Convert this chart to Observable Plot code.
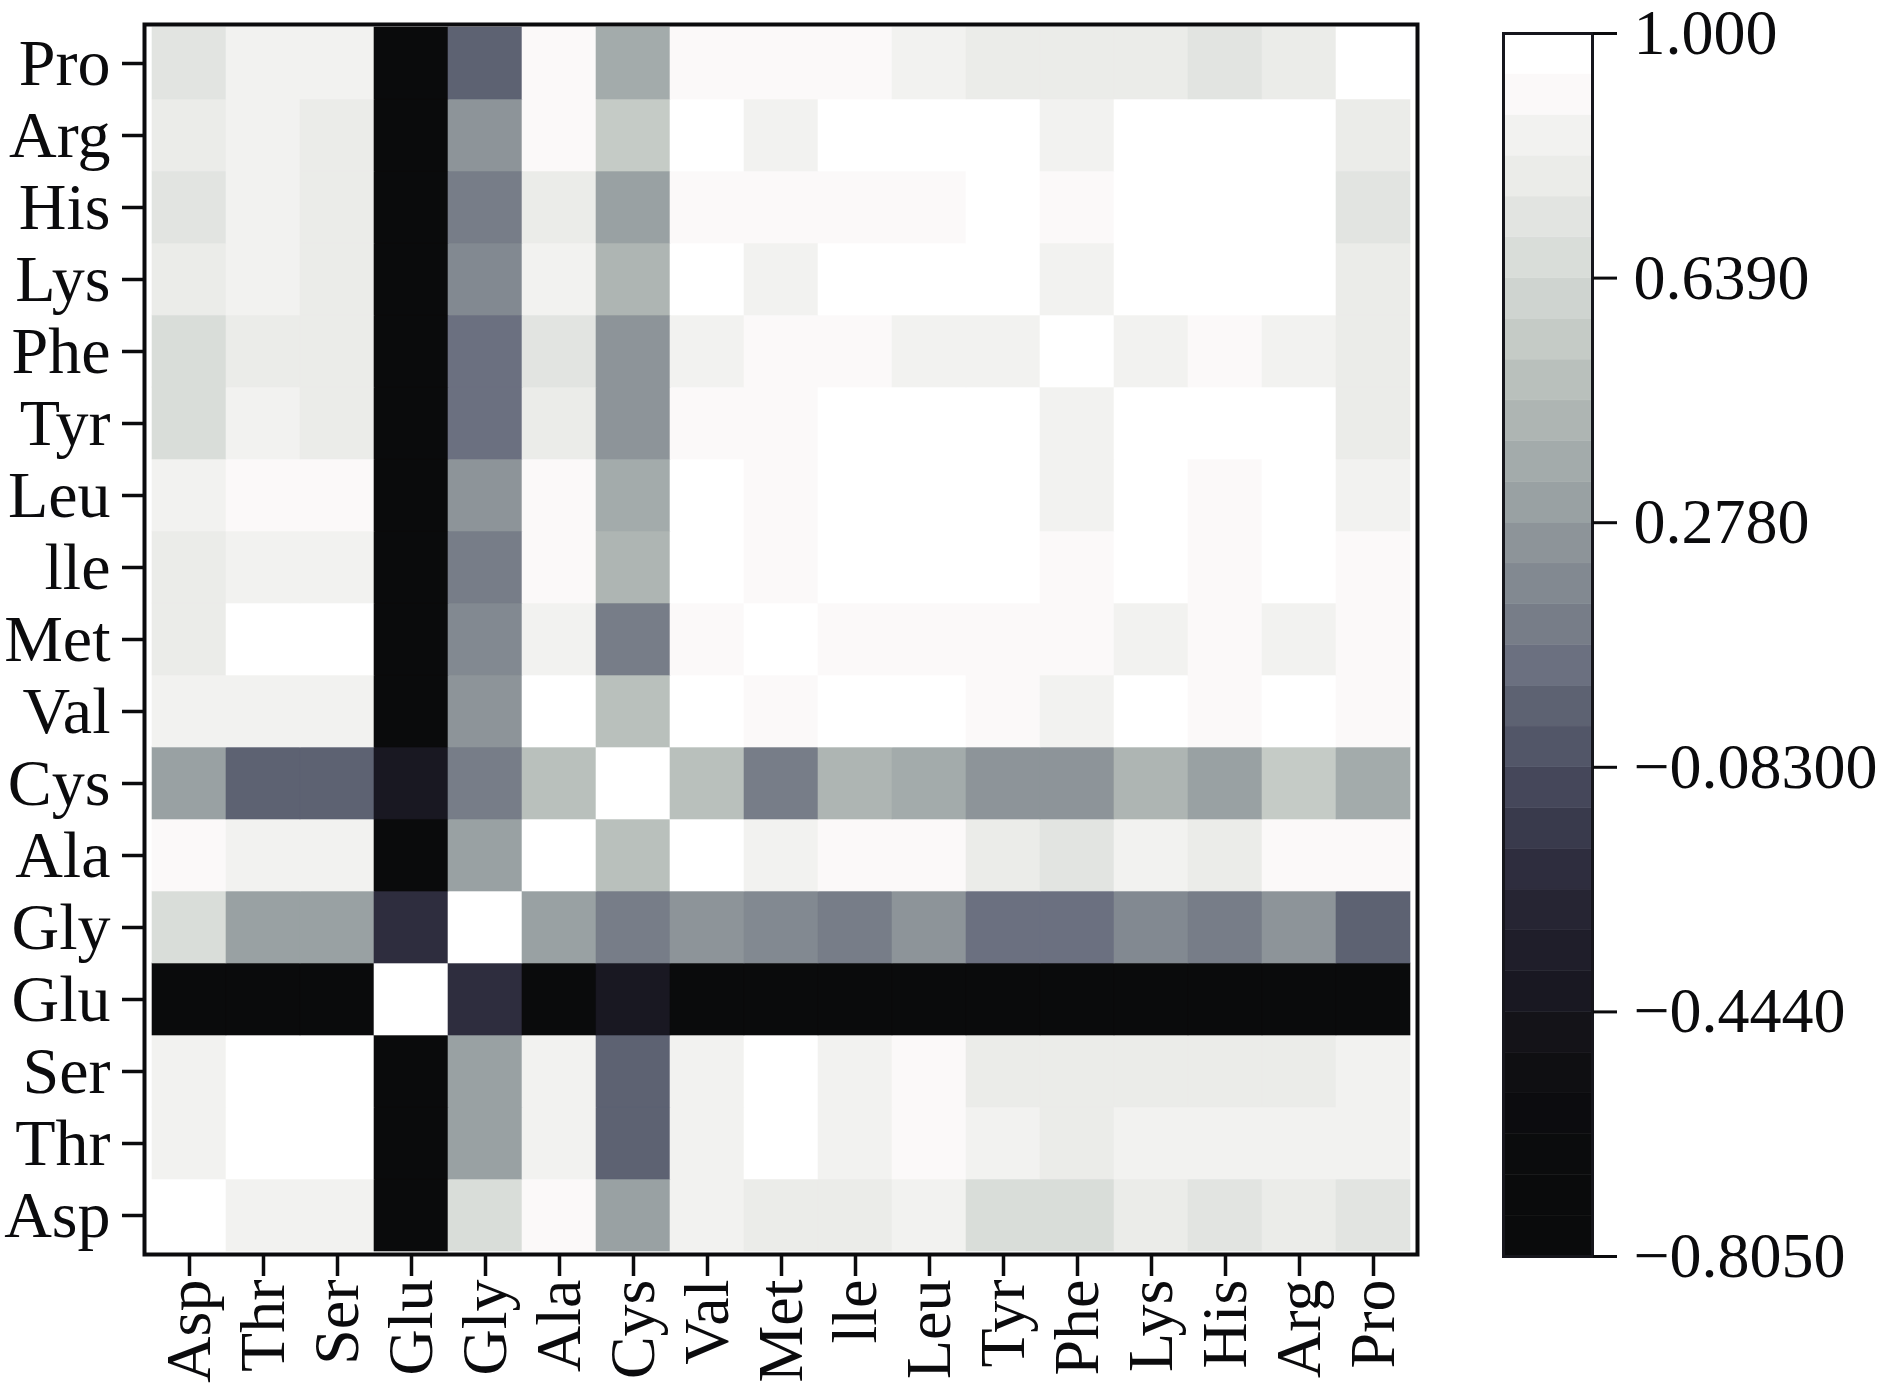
<!DOCTYPE html>
<html><head><meta charset="utf-8">
<script src="https://cdn.jsdelivr.net/npm/d3@7"></script>
<script src="https://cdn.jsdelivr.net/npm/@observablehq/plot@0.6"></script>
<style>
body{margin:0;background:#fff;}
#wrap{display:flex;width:1890px;height:1384px;background:#fff;}
#wrap svg{overflow:visible;display:block;}
</style></head><body><div id="wrap"></div>
<script>
// Amino acids (x order left→right; y shown reversed, Pro on top)
const aminoAcids = ["Asp","Thr","Ser","Glu","Gly","Ala","Cys","Val","Met","lle","Leu","Tyr","Phe","Lys","His","Arg","Pro"];

// Correlation matrix, rows/cols in aminoAcids order
const corr = [
  /*Asp*/ [ 1.00, 0.86, 0.86,-0.78, 0.68, 0.92, 0.32, 0.86, 0.80, 0.80, 0.86, 0.68, 0.68, 0.80, 0.74, 0.80, 0.74],
  /*Thr*/ [ 0.86, 1.00, 0.98,-0.78, 0.32, 0.86, 0.02, 0.86, 0.98, 0.86, 0.92, 0.86, 0.80, 0.86, 0.86, 0.86, 0.86],
  /*Ser*/ [ 0.86, 0.98, 1.00,-0.78, 0.32, 0.86, 0.02, 0.86, 0.98, 0.86, 0.92, 0.80, 0.80, 0.80, 0.80, 0.80, 0.86],
  /*Glu*/ [-0.78,-0.78,-0.78, 1.00,-0.22,-0.78,-0.41,-0.78,-0.78,-0.78,-0.78,-0.78,-0.78,-0.78,-0.78,-0.78,-0.78],
  /*Gly*/ [ 0.68, 0.32, 0.32,-0.22, 1.00, 0.32, 0.14, 0.26, 0.20, 0.14, 0.26, 0.08, 0.08, 0.20, 0.14, 0.26, 0.02],
  /*Ala*/ [ 0.92, 0.86, 0.86,-0.78, 0.32, 1.00, 0.50, 0.98, 0.86, 0.92, 0.92, 0.80, 0.74, 0.86, 0.80, 0.92, 0.92],
  /*Cys*/ [ 0.32, 0.02, 0.02,-0.41, 0.14, 0.50, 1.00, 0.50, 0.14, 0.44, 0.38, 0.26, 0.26, 0.44, 0.32, 0.56, 0.38],
  /*Val*/ [ 0.86, 0.86, 0.86,-0.78, 0.26, 0.98, 0.50, 1.00, 0.92, 0.98, 0.98, 0.92, 0.86, 0.98, 0.92, 0.98, 0.92],
  /*Met*/ [ 0.80, 0.98, 0.98,-0.78, 0.20, 0.86, 0.14, 0.92, 1.00, 0.92, 0.92, 0.92, 0.92, 0.86, 0.92, 0.86, 0.92],
  /*lle*/ [ 0.80, 0.86, 0.86,-0.78, 0.14, 0.92, 0.44, 0.98, 0.92, 1.00, 0.98, 0.98, 0.92, 0.98, 0.92, 0.98, 0.92],
  /*Leu*/ [ 0.86, 0.92, 0.92,-0.78, 0.26, 0.92, 0.38, 0.98, 0.92, 0.98, 1.00, 0.98, 0.86, 0.98, 0.92, 0.98, 0.86],
  /*Tyr*/ [ 0.68, 0.86, 0.80,-0.78, 0.08, 0.80, 0.26, 0.92, 0.92, 0.98, 0.98, 1.00, 0.86, 0.98, 0.98, 0.98, 0.80],
  /*Phe*/ [ 0.68, 0.80, 0.80,-0.78, 0.08, 0.74, 0.26, 0.86, 0.92, 0.92, 0.86, 0.86, 1.00, 0.86, 0.92, 0.86, 0.80],
  /*Lys*/ [ 0.80, 0.86, 0.80,-0.78, 0.20, 0.86, 0.44, 0.98, 0.86, 0.98, 0.98, 0.98, 0.86, 1.00, 0.98, 0.98, 0.80],
  /*His*/ [ 0.74, 0.86, 0.80,-0.78, 0.14, 0.80, 0.32, 0.92, 0.92, 0.92, 0.92, 0.98, 0.92, 0.98, 1.00, 0.98, 0.74],
  /*Arg*/ [ 0.80, 0.86, 0.80,-0.78, 0.26, 0.92, 0.56, 0.98, 0.86, 0.98, 0.98, 0.98, 0.86, 0.98, 0.98, 1.00, 0.80],
  /*Pro*/ [ 0.74, 0.86, 0.86,-0.78, 0.02, 0.92, 0.38, 0.92, 0.92, 0.92, 0.86, 0.80, 0.80, 0.80, 0.74, 0.80, 1.00]
];

// Colour bar
const colorMin = -0.805, colorMax = 1.0, colorBandCount = 30;
const colorTicks = [1.0, 0.639, 0.278, -0.083, -0.444, -0.805];
const colorTickLabels = ["1.000", "0.6390", "0.2780", "\u22120.08300", "\u22120.4440", "\u22120.8050"];
// palette, darkest → lightest (30 steps)
const bandColors = [
  "#0a0b0c","#0a0b0c","#0b0c0d","#0c0c0f","#0f0f12","#141318","#191822","#1f1e2a","#262533","#2e2d3e",
  "#393a4c","#45475a","#525668","#5d6272","#6b7080","#777d88","#828991","#8d9499","#99a1a3","#a3abab",
  "#aeb5b3","#b9c0bc","#c5cbc6","#cfd4d0","#d9ddd9","#e2e4e1","#ebece9","#f2f2f0","#fbf9f9","#ffffff"
];

const step = (colorMax - colorMin) / colorBandCount;
const thresholds = d3.range(1, colorBandCount).map(k => colorMin + k * step);
const colorOpts = {type: "threshold", domain: thresholds, range: bandColors};

const cells = [];
aminoAcids.forEach((r, i) => aminoAcids.forEach((c, j) => cells.push({row: r, col: c, value: corr[i][j]})));

const font = "'Liberation Serif', 'Times New Roman', Times, serif";
const ink = "#0b0b0d";

const heat = Plot.plot({
  width: 1450, height: 1384,
  marginLeft: 144, marginRight: 33, marginTop: 24, marginBottom: 130,
  style: {fontFamily: font, fontSize: "66px", color: ink, background: "transparent"},
  x: {domain: aminoAcids, padding: 0, label: null},
  y: {domain: aminoAcids.slice().reverse(), padding: 0, label: null},
  color: colorOpts,
  marks: [
    Plot.cell(cells, {x: "col", y: "row", fill: "value", stroke: "value", strokeWidth: 0.6, inset: 0}),
    Plot.frame({stroke: ink, strokeWidth: 4}),
    Plot.axisX({tickRotate: -90, tickSize: 22, tickPadding: 3, fontSize: 64, strokeWidth: 3.5, label: null}),
    Plot.axisY({tickSize: 22, tickPadding: 12, fontSize: 66, strokeWidth: 3.5, label: null})
  ]
});

const bands = d3.range(colorBandCount).map(k => ({lo: colorMin + k * step, hi: colorMin + (k + 1) * step, mid: colorMin + (k + 0.5) * step}));

const bar = Plot.plot({
  width: 440, height: 1384,
  marginLeft: 53, marginRight: 298, marginTop: 33, marginBottom: 128,
  style: {fontFamily: font, fontSize: "66px", color: ink, background: "transparent"},
  y: {domain: [colorMin, colorMax], label: null},
  color: colorOpts,
  marks: [
    Plot.rect(bands, {y1: "lo", y2: "hi", fill: "mid", stroke: "mid", strokeWidth: 0.5}),
    Plot.frame({stroke: "#16161c", strokeWidth: 3}),
    Plot.axisY({anchor: "right", ticks: colorTicks, tickFormat: d => colorTickLabels[colorTicks.indexOf(d)],
      tickSize: 24, tickPadding: 17, fontSize: 64, strokeWidth: 3, label: null})
  ]
});

document.getElementById("wrap").append(heat, bar);
</script>
</body></html>
